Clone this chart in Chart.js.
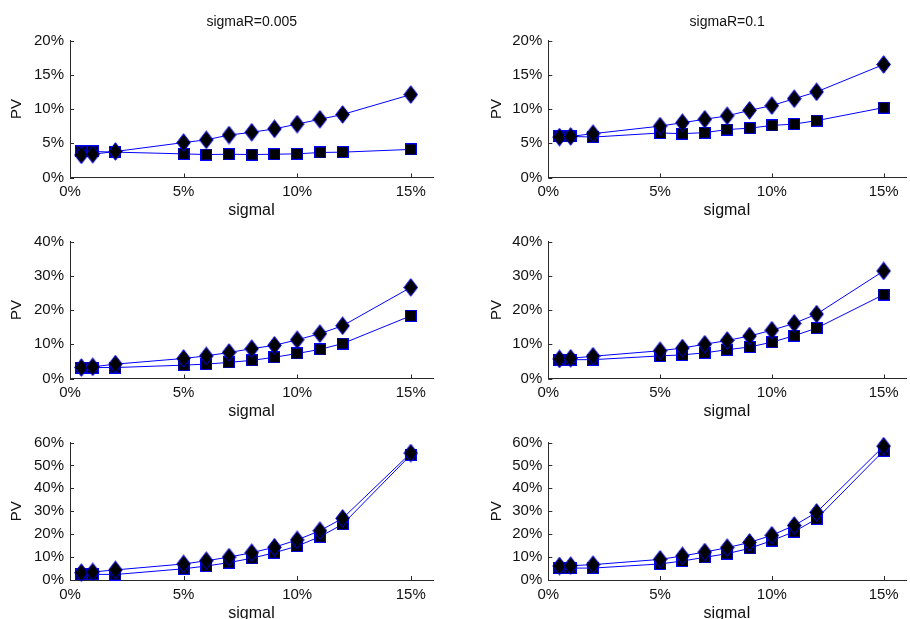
<!DOCTYPE html>
<html>
<head>
<meta charset="utf-8">
<script src="https://cdn.jsdelivr.net/npm/chart.js@4"></script>
<style>
  html, body { margin: 0; padding: 0; overflow: hidden; background: #fff; width: 910px; height: 619px; }
  .panel { position: absolute; }
</style>
</head>
<body>
<script>
// sigmaI values (in %) shared by every panel
const sigmaI = [0.5, 1, 2, 5, 6, 7, 8, 9, 10, 11, 12, 15];
const xTicks = [0, 5, 10, 15];
const xMax = 16;

const columnTitles = ['sigmaR=0.005', 'sigmaR=0.1'];
const xAxisLabel = 'sigmaI';
const yAxisLabel = 'PV';

const yTicksTop = [0, 5, 10, 15, 20];
const yTicksMiddle = [0, 10, 20, 30, 40];
const yTicksBottom = [0, 10, 20, 30, 40, 50, 60];

// PV (%) — left column, sigmaR = 0.005
const diamondTopLeft = [3.3, 3.4, 3.8, 5.1, 5.5, 6.2, 6.6, 7.1, 7.8, 8.5, 9.2, 12.1];
const squareTopLeft = [3.8, 3.8, 3.7, 3.45, 3.35, 3.4, 3.35, 3.4, 3.45, 3.65, 3.7, 4.1];
const diamondMiddleLeft = [3.2, 3.4, 4.2, 5.85, 6.6, 7.6, 8.7, 9.7, 11.3, 13.1, 15.4, 26.6];
const squareMiddleLeft = [3.2, 3.2, 3.2, 3.9, 4.2, 4.7, 5.3, 6.2, 7.3, 8.5, 10.2, 18.3];
const diamondBottomLeft = [3.2, 3.5, 4.4, 7.0, 8.4, 10.0, 11.9, 14.3, 17.5, 21.5, 26.9, 55.4];
const squareBottomLeft = [2.5, 2.5, 2.4, 4.9, 6.1, 7.6, 9.5, 11.9, 14.8, 18.9, 24.3, 54.6];

// PV (%) — right column, sigmaR = 0.1
const diamondTopRight = [5.9, 6.0, 6.4, 7.5, 8.0, 8.5, 9.0, 9.8, 10.5, 11.5, 12.5, 16.5];
const squareTopRight = [6.0, 6.0, 5.9, 6.5, 6.4, 6.55, 7.0, 7.2, 7.6, 7.8, 8.3, 10.2];
const diamondMiddleRight = [5.7, 5.9, 6.5, 8.1, 8.9, 10.0, 11.1, 12.4, 14.1, 16.1, 18.8, 31.4];
const squareMiddleRight = [5.5, 5.5, 5.5, 6.6, 6.9, 7.5, 8.4, 9.2, 10.6, 12.5, 14.7, 24.5];
const diamondBottomRight = [6.1, 6.25, 6.7, 9.0, 10.5, 12.2, 14.1, 16.4, 19.5, 23.8, 29.5, 58.4];
const squareBottomRight = [5.2, 5.2, 5.2, 7.0, 8.3, 9.9, 11.5, 13.8, 17.2, 21.1, 26.7, 56.4];

const lineBlue = '#0000ff';
const axisColor = '#2a2a2a';
const textColor = '#111111';
const fontFamily = '"Liberation Sans", Arial, Helvetica, sans-serif';

// Marker sprites: black fill with a thin blue edge
function makeDiamond() {
  const c = document.createElement('canvas');
  c.width = 15; c.height = 19;
  const g = c.getContext('2d');
  g.beginPath();
  g.moveTo(7.5, 0.7); g.lineTo(14.3, 9.5); g.lineTo(7.5, 18.3); g.lineTo(0.7, 9.5); g.closePath();
  g.fillStyle = '#000'; g.fill();
  g.strokeStyle = lineBlue; g.lineWidth = 1; g.stroke();
  return c;
}
function makeSquare() {
  const c = document.createElement('canvas');
  c.width = 12; c.height = 12;
  const g = c.getContext('2d');
  g.fillStyle = '#000'; g.fillRect(0.5, 0.5, 11, 11);
  g.strokeStyle = lineBlue; g.lineWidth = 1; g.strokeRect(0.5, 0.5, 11, 11);
  return c;
}
const diamondMarker = makeDiamond();
const squareMarker = makeSquare();

// Short tick marks pointing into the plot area
const inwardTicks = {
  id: 'inwardTicks',
  beforeDatasetsDraw(chart) {
    const { ctx, chartArea: a, scales: { x, y } } = chart;
    ctx.save();
    ctx.strokeStyle = axisColor;
    ctx.lineWidth = 1;
    ctx.beginPath();
    x.ticks.forEach(t => {
      const p = Math.round(x.getPixelForValue(t.value)) + 0.5;
      ctx.moveTo(p, a.bottom); ctx.lineTo(p, a.bottom - 4);
    });
    y.ticks.forEach(t => {
      const p = Math.round(y.getPixelForValue(t.value)) + 0.5;
      ctx.moveTo(a.left, p); ctx.lineTo(a.left + 4, p);
    });
    ctx.stroke();
    ctx.restore();
  }
};

// Panel frames: canvas box and target plot area, in page pixels
const columns = [
  { cx: 0, cw: 455, left: 70, right: 433.5, pvX: 17 },
  { cx: 455, cw: 460, left: 548.3, right: 912.8, pvX: 496.7 }
];
const rows = [
  { cy: 0, ch: 222, top: 40.5, bottom: 177.5, yMax: 20, yTicks: yTicksTop },
  { cy: 222, ch: 200, top: 241.5, bottom: 378.5, yMax: 40, yTicks: yTicksMiddle },
  { cy: 422, ch: 205, top: 442.5, bottom: 580, yMax: 60, yTicks: yTicksBottom }
];
const panelSeries = [
  [[diamondTopLeft, squareTopLeft], [diamondTopRight, squareTopRight]],
  [[diamondMiddleLeft, squareMiddleLeft], [diamondMiddleRight, squareMiddleRight]],
  [[diamondBottomLeft, squareBottomLeft], [diamondBottomRight, squareBottomRight]]
];

const tickFont = { family: fontFamily, size: 15, lineHeight: 1.2 };
const xTitleFont = { family: fontFamily, size: 16, lineHeight: 1.2 };
const yTitleFont = { family: fontFamily, size: 15, lineHeight: 1.2 };
const panelTitleFont = { family: fontFamily, size: 14, weight: 'normal', lineHeight: 1.2 };

function series(values, marker) {
  return {
    data: sigmaI.map((s, i) => ({ x: s, y: values[i] })),
    borderColor: lineBlue,
    backgroundColor: lineBlue,
    borderWidth: 1,
    pointStyle: marker,
    pointRadius: 8,
    pointHoverRadius: 8,
    tension: 0,
    clip: false
  };
}

rows.forEach((row, r) => {
  columns.forEach((col, c) => {
    const canvas = document.createElement('canvas');
    canvas.className = 'panel';
    canvas.width = col.cw; canvas.height = row.ch;
    canvas.style.left = col.cx + 'px';
    canvas.style.top = row.cy + 'px';
    canvas.style.width = col.cw + 'px';
    canvas.style.height = row.ch + 'px';
    document.body.appendChild(canvas);

    const padLeft = col.pvX - col.cx - yTitleFont.size * yTitleFont.lineHeight / 2;
    const yAxisWidth = col.left - col.cx - padLeft;
    const xLabelGap = 33.5;
    const xAxisHeight = xLabelGap + xTitleFont.size * xTitleFont.lineHeight / 2;
    const padBottom = row.ch - (row.bottom - row.cy) - xAxisHeight;
    const padRight = col.cx + col.cw - col.right;
    const hasTitle = r === 0;
    const padTop = hasTitle ? 5 : row.top - row.cy;
    const titleBox = row.top - row.cy - padTop;
    const titleCenter = 22.5;
    const titlePadTop = titleCenter - padTop - panelTitleFont.size * panelTitleFont.lineHeight / 2;
    const titlePadBottom = titleBox - titlePadTop - panelTitleFont.size * panelTitleFont.lineHeight;

    const [diamonds, squares] = panelSeries[r][c];

    new Chart(canvas, {
      type: 'line',
      data: { datasets: [series(diamonds, diamondMarker), series(squares, squareMarker)] },
      options: {
        responsive: false,
        animation: false,
        devicePixelRatio: 1,
        layout: { padding: { left: padLeft, right: padRight, top: padTop, bottom: padBottom } },
        plugins: {
          legend: { display: false },
          tooltip: { enabled: false },
          title: {
            display: hasTitle,
            text: columnTitles[c],
            fullSize: false,
            color: textColor,
            font: panelTitleFont,
            padding: { top: titlePadTop, bottom: titlePadBottom }
          }
        },
        scales: {
          x: {
            type: 'linear',
            min: 0,
            max: xMax,
            grid: { display: false, drawTicks: false },
            border: { display: true, color: axisColor, width: 1 },
            ticks: {
              color: textColor,
              font: tickFont,
              padding: 5.5,
              maxRotation: 0,
              callback: v => v + '%'
            },
            afterBuildTicks: s => { s.ticks = xTicks.map(v => ({ value: v })); },
            afterFit: s => { s.height = xAxisHeight; },
            title: { display: true, text: xAxisLabel, color: textColor, font: xTitleFont, padding: 0 }
          },
          y: {
            type: 'linear',
            min: 0,
            max: row.yMax,
            grid: { display: false, drawTicks: false },
            border: { display: true, color: axisColor, width: 1 },
            ticks: {
              color: textColor,
              font: tickFont,
              padding: 6,
              callback: v => v + '%'
            },
            afterBuildTicks: s => { s.ticks = row.yTicks.map(v => ({ value: v })); },
            afterFit: s => { s.width = yAxisWidth; },
            title: { display: true, text: yAxisLabel, color: textColor, font: yTitleFont, padding: 0 }
          }
        }
      },
      plugins: [inwardTicks]
    });
  });
});
</script>
</body>
</html>
